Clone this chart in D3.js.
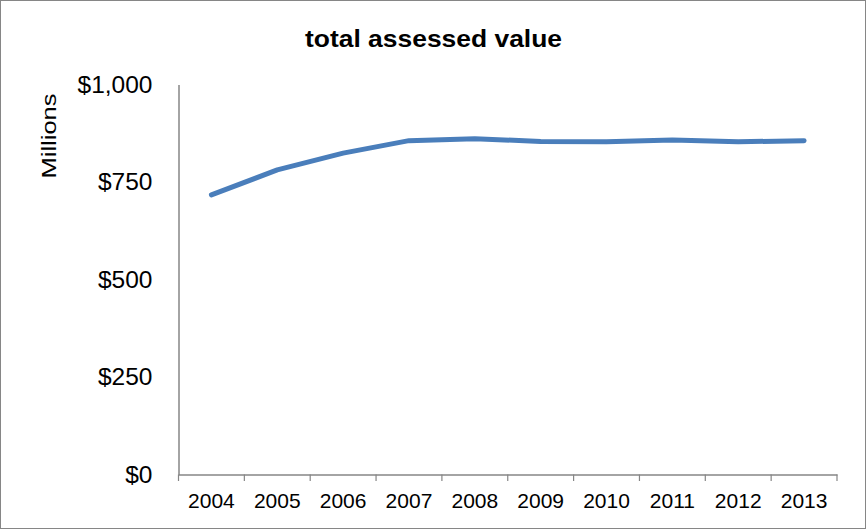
<!DOCTYPE html>
<html><head><meta charset="utf-8">
<script src="https://cdn.jsdelivr.net/npm/d3@7"></script>
<style>body{margin:0;background:#fff}svg{display:block}text{font-family:"Liberation Sans",Arial,sans-serif}</style>
</head><body>
<svg id="c" width="866" height="529"></svg>
<script>
const years = ["2004","2005","2006","2007","2008","2009","2010","2011","2012","2013"];
const values = [717, 781, 824, 856, 861, 854, 853, 858, 853, 856];
const yTicks = [0, 250, 500, 750, 1000];
const title = "total assessed value";
const yTitle = "Millions";

const svg = d3.select("#c");
svg.append("rect").attr("x",0.5).attr("y",0.5).attr("width",865).attr("height",528)
  .attr("fill","#fff").attr("stroke","#868686").attr("stroke-width",1);

const m = {l:178.5, r:837, t:84.5, b:474.5};
const x = d3.scaleBand().domain(years).range([m.l, m.r]);
const y = d3.scaleLinear().domain([0,1000]).range([m.b, m.t]);

// y axis
const ya = svg.append("g").attr("transform",`translate(${m.l},0)`)
  .call(d3.axisLeft(y).tickValues(yTicks).tickSize(0).tickPadding(26)
    .tickFormat(d => "$" + d3.format(",")(d)));
ya.select(".domain").attr("stroke","#868686").attr("stroke-width",1.5);
ya.selectAll("text").attr("font-size",24.5).attr("fill","#000");

// x axis
const xa = svg.append("g").attr("transform",`translate(0,${m.b})`)
  .call(d3.axisBottom(x).tickSize(0).tickPadding(19));
xa.select(".domain").attr("stroke","#868686").attr("stroke-width",1.5);
xa.selectAll("text").attr("font-size",21).attr("fill","#000");
// tick marks at band edges
const edges = years.map(d => x(d)).concat([x(years[years.length-1]) + x.bandwidth()]);
xa.selectAll("line.edge").data(edges).enter().append("line").attr("class","edge")
  .attr("x1",d=>d).attr("x2",d=>d).attr("y1",0).attr("y2",6.5)
  .attr("stroke","#868686").attr("stroke-width",1.2);

// line
const line = d3.line().x((d,i) => x(years[i]) + x.bandwidth()/2).y(d => y(d));
svg.append("path").datum(values).attr("d", line)
  .attr("fill","none").attr("stroke","#4a7ebb").attr("stroke-width",5)
  .attr("stroke-linecap","round").attr("stroke-linejoin","round");

svg.append("text").attr("x",433.5).attr("y",47).attr("text-anchor","middle")
  .attr("font-size",24).attr("font-weight","bold")
  .attr("textLength",257).attr("lengthAdjust","spacingAndGlyphs").text(title);
svg.append("text").attr("transform","translate(56,136) rotate(-90)")
  .attr("text-anchor","middle").attr("font-size",21)
  .attr("textLength",85).attr("lengthAdjust","spacingAndGlyphs").text(yTitle);
</script>
</body></html>
